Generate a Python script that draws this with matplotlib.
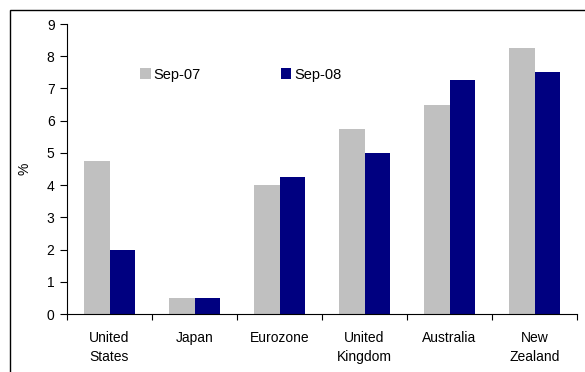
import matplotlib
matplotlib.use("Agg")
import matplotlib.pyplot as plt
import numpy as np
from matplotlib.patches import Rectangle

categories = ["United\nStates", "Japan", "Eurozone", "United\nKingdom", "Australia", "New\nZealand"]
sep07 = [4.75, 0.5, 4.0, 5.75, 6.5, 8.25]
sep08 = [2.0, 0.5, 4.25, 5.0, 7.25, 7.5]
series_labels = ["Sep-07", "Sep-08"]

plt.rcParams["font.family"] = ["Liberation Sans", "DejaVu Sans"]
plt.rcParams["font.size"] = 10

W, H = 585, 372
fig = plt.figure(figsize=(W / 100, H / 100), dpi=100)
ax = fig.add_axes([67 / W, 1 - 314 / H, (577 - 67) / W, (314 - 24) / H])

x = np.arange(len(categories))
bw = 0.295
ax.bar(x - bw / 2, sep07, bw, color="#c0c0c0", label=series_labels[0])
ax.bar(x + bw / 2, sep08, bw, color="#000080", label=series_labels[1])

ax.set_xlim(-0.5, len(categories) - 0.5)
ax.set_ylim(0, 9)
ax.set_yticks(range(0, 10))
ax.set_xticks(np.arange(-0.5, len(categories), 1.0))
ax.set_xticklabels([])
ax.set_xticks(x, minor=True)
ax.set_xticklabels(categories, minor=True, linespacing=1.45)
ax.tick_params(axis="x", which="minor", length=0, pad=12)
ax.tick_params(axis="x", which="major", length=4, direction="out")
ax.tick_params(axis="y", length=5, direction="out", pad=4)
for s in ["top", "right"]:
    ax.spines[s].set_visible(False)
for s in ["left", "bottom"]:
    ax.spines[s].set_linewidth(0.8)
ax.set_ylabel("%", labelpad=11)

ax.legend(loc="upper left", bbox_to_anchor=(0.143, 0.85), ncol=2, frameon=False,
          borderpad=0, borderaxespad=0, fontsize=10.5,
          handlelength=0.75, handleheight=0.75, handletextpad=0.2, columnspacing=5.45)

# outer frame of the chart area
fig.patches.append(Rectangle((10 / W, -0.1), 1.2, 1 - 10 / H + 0.1,
                             transform=fig.transFigure, fill=False,
                             edgecolor="black", linewidth=1.0))

fig.savefig("out.png", dpi=100)
